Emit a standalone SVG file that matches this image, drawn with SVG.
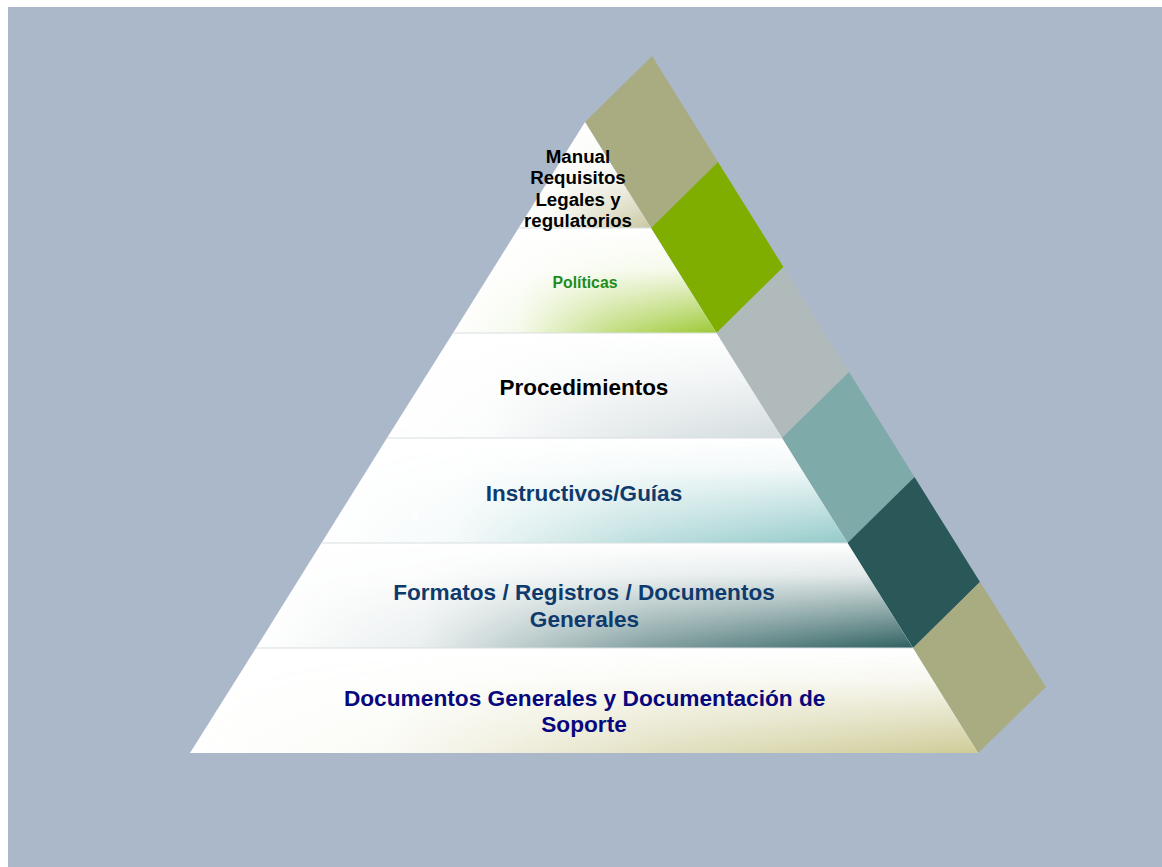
<svg xmlns="http://www.w3.org/2000/svg" width="1162" height="867" viewBox="0 0 1162 867">
  <style>
    text { font-family: "Liberation Sans", Arial, sans-serif; font-weight: bold; text-anchor: middle; }
    .edge { stroke: #d9dfe2; stroke-width: 1; }
    .face { fill: #ffffff; }
  </style>
  <defs>
    <!-- horizontal fade: colour shows more to the right of each tier -->
    <linearGradient id="hfade" x1="0" y1="0" x2="1" y2="0">
      <stop offset="0" stop-color="#000"/>
      <stop offset="0.25" stop-color="#1a1a1a"/>
      <stop offset="0.6" stop-color="#9a9a9a"/>
      <stop offset="1" stop-color="#fff"/>
    </linearGradient>
    <mask id="hmask" maskContentUnits="objectBoundingBox">
      <rect x="0" y="0" width="1" height="1" fill="url(#hfade)"/>
    </mask>
    <!-- vertical tints, one per tier -->
    <linearGradient id="g1" x1="0" y1="0" x2="0" y2="1">
      <stop offset="0" stop-color="#c9c7a0" stop-opacity="0"/>
      <stop offset="0.5" stop-color="#c9c7a0" stop-opacity="0.2"/>
      <stop offset="1" stop-color="#c9c7a0" stop-opacity="1"/>
    </linearGradient>
    <linearGradient id="g2" x1="0" y1="0" x2="0" y2="1">
      <stop offset="0" stop-color="#9cc832" stop-opacity="0"/>
      <stop offset="0.4" stop-color="#9cc832" stop-opacity="0.12"/>
      <stop offset="1" stop-color="#9cc832" stop-opacity="1"/>
    </linearGradient>
    <linearGradient id="g3" x1="0" y1="0" x2="0" y2="1">
      <stop offset="0" stop-color="#d3dcde" stop-opacity="0"/>
      <stop offset="0.4" stop-color="#d3dcde" stop-opacity="0.3"/>
      <stop offset="1" stop-color="#d3dcde" stop-opacity="1"/>
    </linearGradient>
    <linearGradient id="g4" x1="0" y1="0" x2="0" y2="1">
      <stop offset="0" stop-color="#94caca" stop-opacity="0"/>
      <stop offset="0.3" stop-color="#94caca" stop-opacity="0.15"/>
      <stop offset="1" stop-color="#94caca" stop-opacity="1"/>
    </linearGradient>
    <linearGradient id="g5" x1="0" y1="0" x2="0" y2="1">
      <stop offset="0" stop-color="#2f6060" stop-opacity="0"/>
      <stop offset="0.3" stop-color="#2f6060" stop-opacity="0.15"/>
      <stop offset="1" stop-color="#2f6060" stop-opacity="1"/>
    </linearGradient>
    <linearGradient id="g6" x1="0" y1="0" x2="0" y2="1">
      <stop offset="0" stop-color="#cfcc98" stop-opacity="0"/>
      <stop offset="0.3" stop-color="#cfcc98" stop-opacity="0.15"/>
      <stop offset="1" stop-color="#cfcc98" stop-opacity="1"/>
    </linearGradient>
  </defs>

  <!-- backdrop -->
  <rect x="8" y="7" width="1154" height="860" fill="#abb8ca"/>

  <!-- side face of the pyramid, one band per tier -->
  <g id="side">
    <polygon points="585,122 652,56 718,162 651,228" fill="#a9ab80"/>
    <polygon points="651,228 718,162 783.5,267 716.5,333" fill="#7fae00"/>
    <polygon points="716.5,333 783.5,267 849,372 782,438" fill="#b1baba"/>
    <polygon points="782,438 849,372 914.5,477 847.5,543" fill="#7eaaa9"/>
    <polygon points="847.5,543 914.5,477 980,582 913,648" fill="#2a5757"/>
    <polygon points="913,648 980,582 1046,687 978,753" fill="#a9ab80"/>
  </g>

  <g id="tier-politicas">
    <polygon class="face" points="518.6,228 651,228 716.5,333 453,333"/>
    <polygon points="518.6,228 651,228 716.5,333 453,333" fill="url(#g2)" mask="url(#hmask)"/>
    <text x="585" y="287.5" font-size="15.8" fill="#1e8c1e">Políticas</text>
  </g>

  <g id="tier-manual">
    <polygon class="face" points="585,122 651,228 518.6,228"/>
    <polygon points="585,122 651,228 518.6,228" fill="url(#g1)" mask="url(#hmask)"/>
    <line class="edge" x1="518.6" y1="228" x2="651" y2="228" stroke="#c9c7a0"/>
    <text font-size="18.7" fill="#000"><tspan x="578" y="162.5">Manual</tspan><tspan x="578" y="184">Requisitos</tspan><tspan x="578" y="205.5">Legales y</tspan><tspan x="578" y="227">regulatorios</tspan></text>
  </g>

  <g id="tier-procedimientos">
    <polygon class="face" points="453,333 716.5,333 782,438 387,438"/>
    <polygon points="453,333 716.5,333 782,438 387,438" fill="url(#g3)" mask="url(#hmask)"/>
    <line class="edge" x1="453" y1="333" x2="716.5" y2="333"/>
    <text x="584" y="395" font-size="22.5" fill="#000">Procedimientos</text>
  </g>

  <g id="tier-instructivos">
    <polygon class="face" points="387,438 782,438 847.5,543 321.5,543"/>
    <polygon points="387,438 782,438 847.5,543 321.5,543" fill="url(#g4)" mask="url(#hmask)"/>
    <line class="edge" x1="387" y1="438" x2="782" y2="438"/>
    <text x="415.5" y="519" font-size="13" font-weight="normal" fill="#ffffff">d</text>
    <text x="584" y="500.5" font-size="22.5" fill="#0f3a6c">Instructivos/Guías</text>
  </g>

  <g id="tier-formatos">
    <polygon class="face" points="321.5,543 847.5,543 913,648 256,648"/>
    <polygon points="321.5,543 847.5,543 913,648 256,648" fill="url(#g5)" mask="url(#hmask)"/>
    <line class="edge" x1="321.5" y1="543" x2="847.5" y2="543"/>
    <text font-size="22.6" fill="#0f3a6c"><tspan x="584" y="600">Formatos / Registros / Documentos</tspan><tspan x="584.5" y="626.5">Generales</tspan></text>
  </g>

  <g id="tier-documentos">
    <polygon class="face" points="256,648 913,648 978,753 190,753"/>
    <polygon points="256,648 913,648 978,753 190,753" fill="url(#g6)" mask="url(#hmask)"/>
    <line class="edge" x1="256" y1="648" x2="913" y2="648"/>
    <text font-size="22.7" fill="#08087e"><tspan x="584.7" y="706">Documentos Generales y Documentación de</tspan><tspan x="584" y="731.5">Soporte</tspan></text>
  </g>
</svg>
